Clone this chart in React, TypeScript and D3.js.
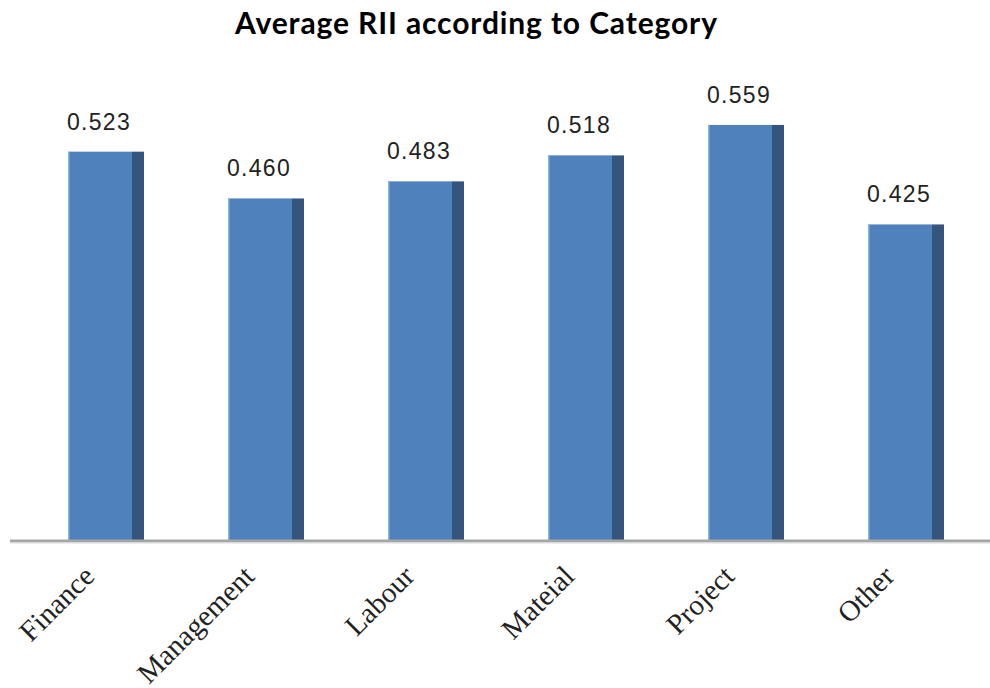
import React from "react";
import * as d3 from "d3";

const categories = ["Finance", "Management", "Labour", "Mateial", "Project", "Other"];
const values = [0.523, 0.46, 0.483, 0.518, 0.559, 0.425];
const valueLabels = ["0.523", "0.460", "0.483", "0.518", "0.559", "0.425"];
const title = "Average RII according to Category";

const W = 990;
const H = 688;
const baseY = 540;

export default function App() {
  const x = d3.scaleBand<string>().domain(categories).range([20, 980]).padding(0);
  const y = d3.scaleLinear().domain([0, 0.7]).range([baseY, baseY - 0.7 * 742.5]);
  const step = x.step();
  const faceW = step * 0.4;
  const sideW = 12;

  return (
    <svg
      width={W}
      height={H}
      style={{ position: "absolute", left: 0, top: 0, background: "#fff" }}
    >
      <text
        x={476}
        y={34}
        textAnchor="middle"
        fontFamily="Lato, 'Open Sans', sans-serif"
        fontWeight="bold"
        fontSize={30}
        textLength={482}
        lengthAdjust="spacing"
        fill="#000"
      >
        {title}
      </text>

      {categories.map((c, i) => {
        const cx = (x(c) as number) + step / 2;
        const top = y(values[i]);
        return (
          <g key={c}>
            <rect x={cx - faceW / 2} y={top} width={faceW} height={baseY - top} fill="#4f81bd" />
            <rect x={cx - faceW / 2} y={top} width={1.5} height={baseY - top} fill="#8fb0dc" />
            <rect x={cx + faceW / 2} y={top} width={sideW} height={baseY - top} fill="#34557f" />
            <text
              x={cx - 1}
              y={top - 22}
              textAnchor="middle"
              fontFamily="'Liberation Sans', Arial, sans-serif"
              fontSize={23}
              letterSpacing={1.3}
              fill="#222"
            >
              {valueLabels[i]}
            </text>
            <text
              transform={`translate(${cx - 4},${baseY + 38}) rotate(-45)`}
              textAnchor="end"
              fontFamily="'Liberation Serif', 'Times New Roman', serif"
              fontSize={29}
              fill="#222"
            >
              {c}
            </text>
          </g>
        );
      })}

      <line x1={10} x2={990} y1={baseY + 1} y2={baseY + 1} stroke="#a6a6a6" strokeWidth={3} />
      <line x1={10} x2={990} y1={baseY + 3} y2={baseY + 3} stroke="#dcdcdc" strokeWidth={1} />
    </svg>
  );
}
